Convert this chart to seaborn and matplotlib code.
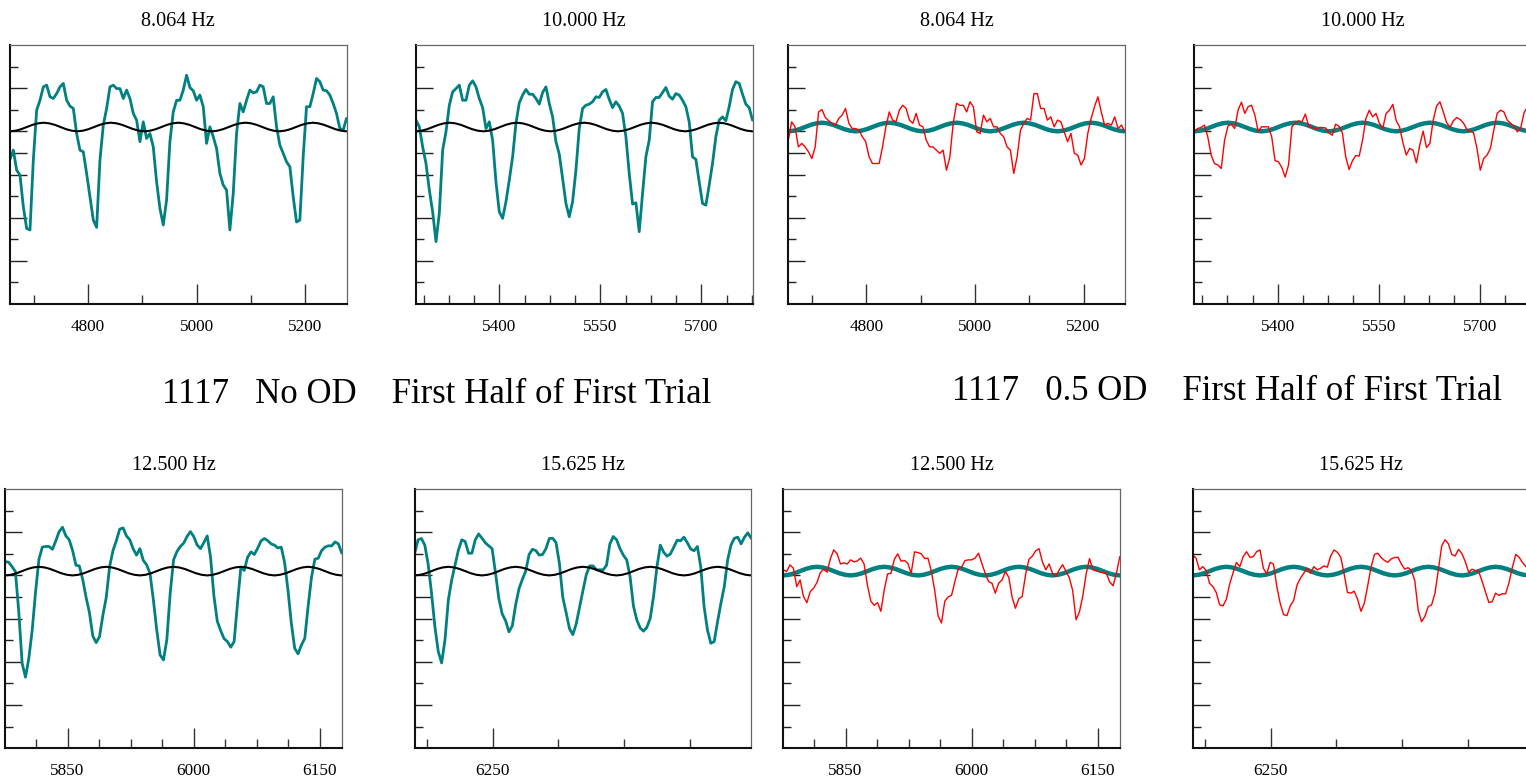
import numpy as np
import pandas as pd
import matplotlib
matplotlib.use("Agg")
import matplotlib.pyplot as plt
import seaborn as sns
from matplotlib.ticker import FixedLocator, FixedFormatter

sns.set_theme(style="white")
plt.rcParams["font.family"] = ["Liberation Serif", "DejaVu Serif"]

TEAL = "#008080"
RED = "#ff0000"

# ---------------- data ----------------
titles = ["8.064 Hz", "10.000 Hz", "12.500 Hz", "15.625 Hz"]
windows = [(4656, 5276), (5276, 5776), (5776, 6176), (6176, 6496)]
group_titles = ["1117   No OD    First Half of First Trial",
                "1117   0.5 OD    First Half of First Trial"]

# stimulus (sinusoidal light modulation), 5 cycles per window
stim = [8.00, 8.03, 8.10, 8.20, 8.30, 8.37, 8.40, 8.37, 8.30, 8.20, 8.10, 8.03,
        8.00, 8.03, 8.10, 8.20, 8.30, 8.37, 8.40, 8.37, 8.30, 8.20, 8.10, 8.03,
        8.00, 8.03, 8.10, 8.20, 8.30, 8.37, 8.40, 8.37, 8.30, 8.20, 8.10, 8.03,
        8.00, 8.03, 8.10, 8.20, 8.30, 8.37, 8.40, 8.37, 8.30, 8.20, 8.10, 8.03,
        8.00, 8.03, 8.10, 8.20, 8.30, 8.37, 8.40, 8.37, 8.30, 8.20, 8.10, 8.03,
        8.00]

nood_8 = [6.70, 7.13, 6.20, 5.97, 4.51, 3.50, 3.43, 6.67, 8.98, 9.44,
          10.06, 10.14, 9.60, 9.52, 9.75, 10.06, 10.22, 9.44, 9.17, 9.06,
          7.90, 7.13, 7.05, 6.05, 4.97, 3.89, 3.55, 6.67, 8.29, 9.06,
          10.06, 10.14, 9.98, 9.98, 9.52, 9.91, 9.52, 8.83, 8.52, 7.52,
          8.44, 7.67, 7.90, 7.28, 5.66, 4.43, 3.66, 4.82, 7.52, 8.90,
          9.44, 9.44, 9.91, 10.60, 10.03, 9.88, 9.44, 9.68, 9.14, 7.44,
          8.21, 7.75, 7.21, 6.05, 5.51, 5.28, 3.43, 5.12, 7.90, 9.29,
          8.90, 9.44, 9.91, 9.78, 9.83, 10.14, 10.06, 9.29, 9.29, 9.60,
          8.21, 7.36, 6.98, 6.59, 6.36, 4.97, 3.80, 3.89, 6.82, 9.14,
          9.14, 9.75, 10.45, 10.30, 9.91, 9.88, 9.68, 9.29, 8.83, 8.13,
          8.06, 8.60]

nood_10 = [8.52, 8.21, 7.28, 6.51, 5.28, 4.27, 2.89, 4.20, 7.13, 7.98,
           9.21, 9.83, 9.98, 10.14, 9.44, 9.44, 10.14, 10.34, 10.06, 9.52,
           9.10, 8.13, 8.44, 7.59, 5.66, 4.27, 3.97, 4.74, 5.74, 6.82,
           8.37, 9.32, 9.68, 9.94, 9.72, 9.72, 9.52, 9.26, 9.80, 10.06,
           9.29, 8.67, 7.52, 6.94, 5.82, 4.66, 4.04, 4.74, 6.20, 8.13,
           9.06, 9.21, 9.26, 9.37, 9.60, 9.57, 9.83, 9.94, 9.48, 9.10,
           9.37, 9.17, 8.83, 7.75, 6.05, 4.63, 4.69, 3.35, 5.12, 6.82,
           7.59, 9.37, 9.57, 9.57, 9.80, 10.03, 9.63, 9.49, 9.75, 9.68,
           9.44, 9.14, 8.44, 6.82, 6.70, 5.66, 4.66, 4.58, 5.51, 6.51,
           7.75, 8.52, 8.67, 8.49, 9.14, 9.94, 10.30, 10.22, 9.72, 9.26,
           9.10, 8.52]

nood_12 = [8.64, 8.61, 8.41, 8.18, 6.33, 3.94, 3.29, 4.17, 5.48, 7.25,
           8.75, 9.31, 9.34, 9.34, 9.21, 9.60, 10.03, 10.23, 9.83, 9.65,
           9.15, 8.47, 8.44, 7.82, 6.99, 6.28, 5.20, 4.89, 5.17, 6.16,
           6.98, 8.41, 9.15, 9.61, 10.14, 10.20, 9.83, 9.65, 9.23, 8.94,
           9.24, 8.70, 8.49, 8.10, 6.87, 5.48, 4.32, 4.09, 5.02, 7.18,
           8.72, 9.10, 9.34, 9.49, 9.80, 10.03, 9.80, 9.41, 9.24, 9.52,
           9.83, 8.84, 7.05, 5.88, 5.45, 5.08, 4.94, 4.68, 4.94, 6.71,
           8.38, 8.23, 8.84, 9.09, 8.97, 9.26, 9.60, 9.71, 9.61, 9.46,
           9.40, 9.27, 9.31, 8.60, 7.33, 5.79, 4.63, 4.37, 4.78, 5.09,
           6.59, 7.92, 8.75, 8.80, 9.15, 9.31, 9.37, 9.37, 9.55, 9.46,
           9.03]

nood_15 = [9.03, 9.65, 9.71, 9.40, 8.52, 7.18, 5.63, 4.48, 3.95, 5.02,
           6.87, 7.79, 8.49, 9.18, 9.65, 9.57, 9.03, 9.03, 9.65, 9.92,
           9.72, 9.51, 9.37, 9.24, 8.13, 6.93, 6.22, 5.91, 5.39, 5.66,
           6.64, 7.39, 7.82, 8.21, 8.97, 9.21, 9.15, 8.94, 8.97, 9.24,
           9.71, 9.72, 9.52, 8.56, 6.99, 6.28, 5.54, 5.26, 5.76, 6.53,
           7.30, 8.04, 8.44, 8.44, 8.26, 8.26, 8.26, 8.47, 9.46, 9.80,
           9.65, 9.24, 8.94, 8.72, 7.95, 6.59, 5.94, 5.57, 5.42, 5.60,
           6.02, 7.05, 8.41, 9.40, 9.07, 8.89, 9.00, 9.31, 9.63, 9.60,
           9.77, 9.52, 9.23, 9.14, 9.34, 8.41, 6.56, 5.48, 4.86, 4.94,
           5.86, 6.71, 7.48, 8.72, 9.41, 9.72, 9.77, 9.46, 9.77, 9.97,
           9.72]

od_8 = [7.59, 8.44, 8.21, 7.28, 7.44, 7.28, 7.05, 6.74, 7.28, 8.90,
        9.01, 8.64, 8.49, 8.37, 8.29, 8.60, 8.75, 9.06, 8.37, 8.13,
        8.13, 8.06, 7.75, 7.52, 6.82, 6.51, 6.51, 6.51, 7.28, 8.21,
        8.90, 8.52, 8.44, 8.98, 9.21, 9.06, 8.52, 8.37, 8.83, 8.29,
        8.21, 7.59, 7.28, 7.28, 7.13, 6.98, 7.13, 6.20, 6.80, 8.37,
        9.30, 9.20, 9.21, 8.90, 9.37, 9.14, 7.98, 7.90, 8.75, 8.44,
        8.60, 8.21, 8.21, 7.90, 7.75, 7.28, 7.13, 6.05, 6.82, 8.06,
        8.37, 8.60, 8.52, 9.75, 9.75, 9.06, 9.06, 8.52, 8.67, 8.21,
        8.52, 8.44, 7.98, 7.52, 7.90, 6.98, 6.90, 6.44, 6.74, 7.90,
        8.60, 9.14, 9.60, 8.90, 8.29, 8.37, 8.29, 8.67, 8.13, 8.29,
        8.00]

od_10 = [7.98, 8.13, 8.18, 8.29, 7.75, 6.90, 6.51, 6.44, 6.28, 7.59,
         8.24, 8.33, 8.13, 8.98, 9.35, 8.83, 9.14, 9.21, 8.75, 7.98,
         8.21, 8.21, 8.21, 7.75, 6.64, 6.59, 6.33, 5.88, 6.44, 8.21,
         8.40, 8.49, 8.44, 8.80, 8.24, 8.18, 8.12, 8.18, 8.18, 8.16,
         7.93, 7.82, 8.33, 8.24, 7.93, 6.82, 6.23, 6.64, 6.88, 6.85,
         7.59, 8.60, 8.98, 8.67, 8.83, 8.37, 8.13, 8.83, 8.98, 9.25,
         8.49, 8.21, 7.47, 6.90, 7.21, 7.13, 6.54, 7.36, 8.01, 7.25,
         7.44, 8.52, 9.17, 9.37, 8.90, 8.40, 8.18, 8.49, 8.64, 8.55,
         8.38, 8.09, 8.01, 7.93, 7.21, 6.20, 6.74, 6.90, 7.21, 8.06,
         8.83, 8.98, 8.90, 8.52, 8.37, 8.24, 7.98, 8.16, 8.86, 9.14,
         8.98]

od_12 = [8.26, 8.18, 8.49, 8.33, 7.48, 7.79, 7.02, 6.74, 7.25, 7.41,
         7.67, 8.13, 8.29, 8.15, 8.78, 9.18, 9.00, 8.53, 8.58, 8.53,
         8.72, 8.63, 8.67, 8.80, 8.53, 7.55, 6.81, 6.62, 6.74, 6.34,
         7.33, 8.07, 8.10, 8.75, 9.00, 8.66, 8.69, 8.56, 8.10, 9.09,
         9.06, 9.00, 8.78, 8.80, 8.19, 7.30, 6.13, 5.80, 6.81, 7.01,
         7.08, 7.72, 8.30, 8.38, 8.69, 8.72, 8.72, 8.80, 9.03, 8.56,
         8.10, 7.72, 7.64, 7.18, 7.64, 7.79, 8.18, 7.92, 6.99, 6.48,
         6.93, 7.02, 8.04, 8.75, 8.89, 9.14, 9.24, 8.63, 8.26, 8.53,
         8.10, 7.96, 8.26, 8.50, 8.19, 7.89, 7.30, 5.95, 6.31, 7.05,
         8.07, 8.78, 8.26, 8.21, 8.16, 8.13, 8.10, 7.70, 7.52, 8.10,
         8.87]

od_15 = [8.95, 8.80, 8.26, 8.41, 8.23, 7.64, 7.48, 7.21, 6.64, 6.59,
         6.90, 7.61, 8.13, 8.60, 8.41, 8.87, 9.10, 8.84, 8.87, 9.10,
         9.18, 8.33, 8.07, 8.60, 8.53, 7.48, 6.71, 6.19, 6.14, 6.59,
         6.84, 7.56, 7.87, 8.10, 8.33, 8.10, 8.41, 8.26, 8.33, 8.44,
         8.38, 8.90, 9.18, 9.07, 8.84, 8.07, 7.21, 7.18, 7.27, 6.90,
         6.34, 6.71, 7.52, 8.38, 8.97, 9.03, 8.83, 8.69, 8.61, 8.77,
         8.83, 8.84, 8.53, 8.29, 8.36, 8.23, 7.76, 6.40, 5.86, 6.10,
         6.56, 6.64, 7.18, 8.26, 9.37, 9.65, 9.46, 8.97, 8.90, 9.21,
         9.01, 8.64, 8.15, 8.29, 8.23, 8.18, 7.73, 7.24, 6.75, 6.78,
         7.18, 7.08, 7.15, 7.15, 7.67, 8.38, 8.97, 8.84, 8.60, 8.41,
         8.33]

x_major = [[4800, 5000, 5200], [5400, 5550, 5700], [5850, 6000, 6150], [6250]]
x_minor = [[4700, 4900, 5100],
           [5287.5, 5325, 5362.5, 5437.5, 5475, 5512.5, 5587.5, 5625, 5662.5, 5737.5, 5775],
           [5812.5, 5887.5, 5925, 5962.5, 6037.5, 6075, 6112.5],
           [6187.5, 6312.5, 6375, 6437.5]]
y_major = [2, 4, 6, 7, 8, 10]
y_minor = [1, 3, 5, 9, 11]

# ---------------- layout ----------------
W, H = 1526, 781
fig = plt.figure(figsize=(W / 100, H / 100), dpi=100)

top_row = (45, 304)
bot_row = (489, 748.3)
lefts_top = [10, 416, 788.3, 1194.3]
lefts_bot = [5.3, 414.7, 783.3, 1192.7]
AX_W = 336.5


def make_ax(left, row):
    t, b = row
    return fig.add_axes([left / W, 1 - b / H, AX_W / W, (b - t) / H])


def style(ax, k):
    lo, hi = windows[k]
    ax.set_xlim(lo, hi)
    ax.set_ylim(0, 12)
    ax.xaxis.set_major_locator(FixedLocator(x_major[k]))
    ax.xaxis.set_major_formatter(FixedFormatter([str(v) for v in x_major[k]]))
    ax.xaxis.set_minor_locator(FixedLocator(x_minor[k]))
    ax.yaxis.set_major_locator(FixedLocator(y_major))
    ax.yaxis.set_minor_locator(FixedLocator(y_minor))
    ax.tick_params(axis="x", which="major", direction="in", length=14.4, width=1.0,
                   color="#333333", labelsize=12.4, pad=10.5, bottom=True, top=False,
                   labelcolor="black")
    ax.tick_params(axis="x", which="minor", direction="in", length=6.5, width=1.0,
                   color="#333333", bottom=True, top=False)
    ax.tick_params(axis="y", which="major", direction="in", length=12.2, width=1.0,
                   color="#222222", left=True, right=False, labelleft=False)
    ax.tick_params(axis="y", which="minor", direction="in", length=5.8, width=1.0,
                   color="#222222", left=True, right=False)
    for s in ["left", "bottom"]:
        ax.spines[s].set_color("#111111")
        ax.spines[s].set_linewidth(1.5)
    for s in ["top", "right"]:
        ax.spines[s].set_color("#666666")
        ax.spines[s].set_linewidth(0.9)
    ax.set_xlabel("")
    ax.set_ylabel("")
    ax.set_title(titles[k], fontsize=14.5, pad=14, color="black")
    ax.grid(False)


nood = [nood_8, nood_10, nood_12, nood_15]
od = [od_8, od_10, od_12, od_15]

for k in range(4):
    lo, hi = windows[k]
    row = top_row if k < 2 else bot_row
    col = k % 2
    lefts = lefts_top if k < 2 else lefts_bot

    t_stim = np.linspace(lo, hi, len(stim))
    stim_df = pd.DataFrame({"t": t_stim, "v": stim})

    # No OD panel: teal response + black stimulus
    ax = make_ax(lefts[col], row)
    resp = pd.DataFrame({"t": np.linspace(lo, hi, len(nood[k])), "v": nood[k]})
    sns.lineplot(data=resp, x="t", y="v", ax=ax, color=TEAL, linewidth=2.0,
                 estimator=None, errorbar=None, sort=False)
    sns.lineplot(data=stim_df, x="t", y="v", ax=ax, color="black", linewidth=1.5,
                 estimator=None, errorbar=None, sort=False)
    style(ax, k)

    # 0.5 OD panel: thick teal stimulus + red response
    ax = make_ax(lefts[col + 2], row)
    sns.lineplot(data=stim_df, x="t", y="v", ax=ax, color=TEAL, linewidth=3.2,
                 estimator=None, errorbar=None, sort=False)
    resp = pd.DataFrame({"t": np.linspace(lo, hi, len(od[k])), "v": od[k]})
    sns.lineplot(data=resp, x="t", y="v", ax=ax, color=RED, linewidth=1.0,
                 estimator=None, errorbar=None, sort=False)
    style(ax, k)

fig.text(436.5 / W, 1 - 395 / H, group_titles[0], ha="center", va="center",
         fontsize=25, color="black")
fig.text(1227.5 / W, 1 - 392 / H, group_titles[1], ha="center", va="center",
         fontsize=25, color="black")

fig.savefig("out.png", dpi=100, facecolor="white")
